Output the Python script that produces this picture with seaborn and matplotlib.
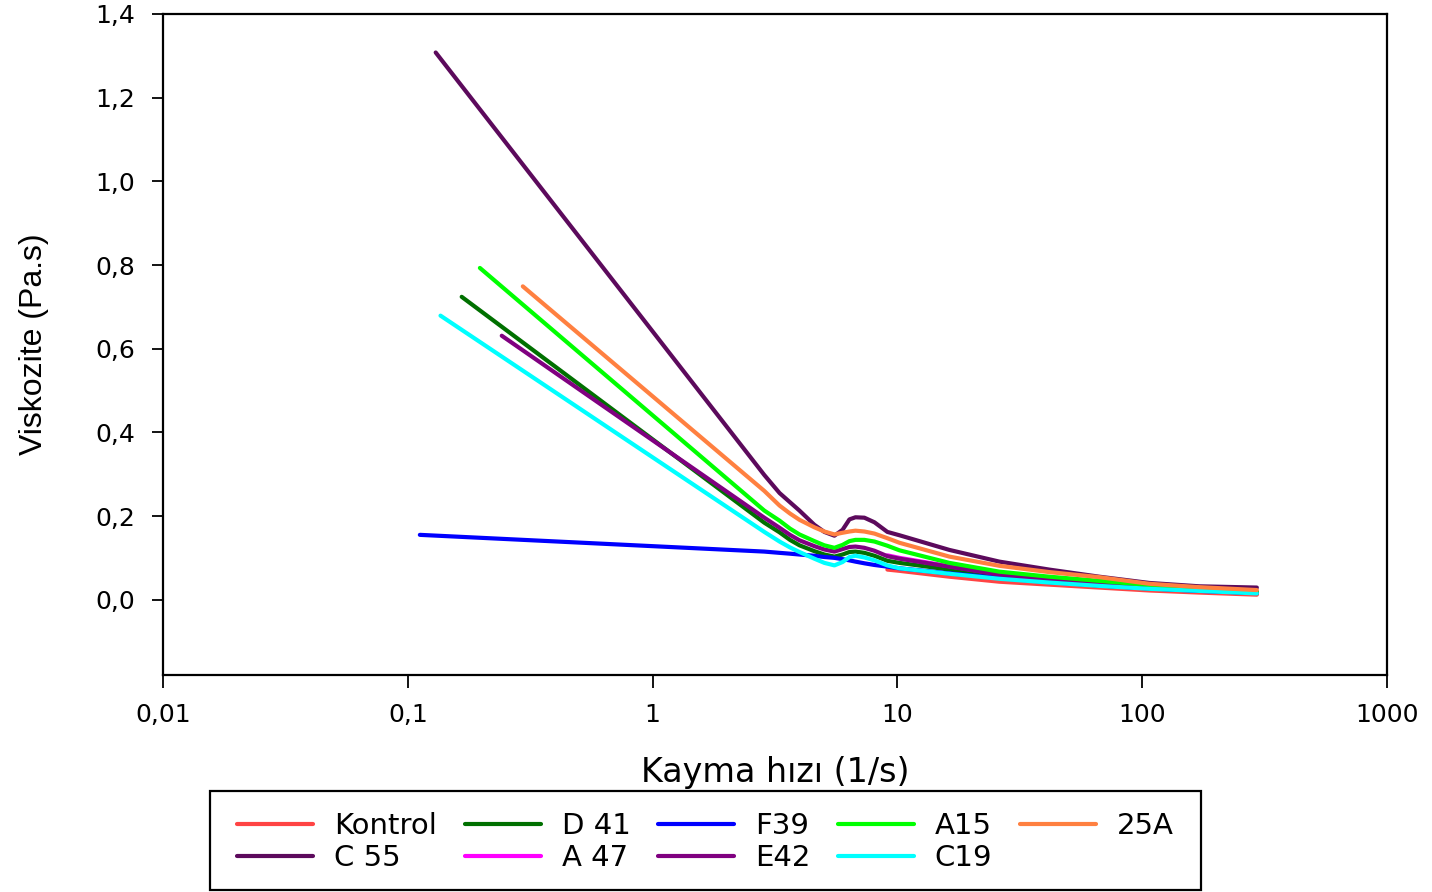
import numpy as np
import pandas as pd
import matplotlib
matplotlib.use("Agg")
import matplotlib.pyplot as plt
import seaborn as sns
from matplotlib.ticker import FixedLocator, NullLocator
from matplotlib.lines import Line2D
from matplotlib.patches import Rectangle

nan = np.nan

# Shear rates (1/s) shared by the curves beyond the linear low-shear part
hiz = [2.86, 3.30, 3.64, 3.98, 4.58, 5.03, 5.53, 5.97, 6.37, 6.74, 7.33, 8.06,
       9.10, 10.2, 16.3, 26.1, 41.7, 66.7, 107, 171, 294]

etiketler = ["Kontrol", "C 55", "D 41", "A 47", "F39", "E42", "A15", "C19", "25A"]
renkler = ["#ff4444", "#5c0a5c", "#007000", "#ff00ff", "#0000ff",
           "#800080", "#00ff00", "#00ffff", "#ff8040"]

# First measured point of each sample (shear rate, viscosity)
ilk_hiz = [nan, 0.130, 0.166, nan, 0.112, 0.242, 0.197, 0.136, 0.295]
ilk_visk = [nan, 1.308, 0.724, nan, 0.155, 0.631, 0.793, 0.679, 0.749]

# Viscosity (Pa.s) on the shared shear-rate list
kontrol = [nan, nan, nan, nan, nan, nan, nan, nan, nan, nan, nan, nan,
           0.072, 0.069, 0.055, 0.043, 0.036, 0.029, 0.022, 0.017, 0.012]
c55 = [0.298, 0.255, 0.233, 0.213, 0.179, 0.162, 0.153, 0.167, 0.192, 0.197, 0.196, 0.185,
       0.162, 0.154, 0.119, 0.091, 0.072, 0.055, 0.040, 0.032, 0.029]
d41 = [0.184, 0.161, 0.143, 0.130, 0.116, 0.108, 0.103, 0.108, 0.114, 0.115, 0.112, 0.105,
       0.093, 0.088, 0.072, 0.055, 0.043, 0.034, 0.027, 0.022, 0.016]
a47 = [nan, nan, nan, nan, nan, nan, nan, nan, nan, nan, nan, nan,
       0.106, 0.100, 0.080, 0.061, 0.049, 0.039, 0.030, 0.025, 0.018]
f39 = [0.115, 0.112, 0.110, 0.108, 0.105, 0.102, 0.100, 0.097, 0.094, 0.091, 0.087, 0.083,
       0.079, 0.075, 0.063, 0.052, 0.042, 0.034, 0.027, 0.021, 0.016]
e42 = [0.196, 0.172, 0.155, 0.142, 0.128, 0.120, 0.115, 0.121, 0.126, 0.127, 0.124, 0.117,
       0.104, 0.098, 0.079, 0.060, 0.048, 0.038, 0.029, 0.024, 0.018]
a15 = [0.213, 0.189, 0.170, 0.156, 0.140, 0.130, 0.124, 0.131, 0.140, 0.143, 0.143, 0.139,
       0.129, 0.118, 0.088, 0.067, 0.055, 0.045, 0.035, 0.027, 0.020]
c19 = [0.162, 0.139, 0.125, 0.114, 0.098, 0.088, 0.082, 0.090, 0.102, 0.105, 0.101, 0.094,
       0.082, 0.075, 0.062, 0.050, 0.041, 0.033, 0.026, 0.021, 0.015]
a25 = [0.260, 0.225, 0.206, 0.191, 0.173, 0.163, 0.156, 0.160, 0.163, 0.165, 0.163, 0.158,
       0.147, 0.136, 0.103, 0.081, 0.066, 0.054, 0.038, 0.030, 0.023]

seriler = [kontrol, c55, d41, a47, f39, e42, a15, c19, a25]

# Long-form table of all curves
parcalar = []
for ad, x0, y0, ys in zip(etiketler, ilk_hiz, ilk_visk, seriler):
    xs = [x0] + hiz
    vs = [y0] + ys
    d = pd.DataFrame({"Numune": ad, "Kayma": xs, "Viskozite": vs}).dropna()
    parcalar.append(d)
veri = pd.concat(parcalar, ignore_index=True)

sns.set_style("white")
plt.rcParams["font.family"] = ["DejaVu Sans"]
plt.rcParams["text.color"] = "black"
plt.rcParams["axes.labelcolor"] = "black"
plt.rcParams["xtick.color"] = "black"
plt.rcParams["ytick.color"] = "black"

fig = plt.figure(figsize=(14.32, 8.92), dpi=100)
ax = fig.add_axes([163 / 1432, 1 - 675 / 892, (1387 - 163) / 1432, (675 - 14) / 892])

LW = 3.0
for ad, renk in zip(etiketler, renkler):
    sns.lineplot(data=veri[veri["Numune"] == ad], x="Kayma", y="Viskozite",
                 color=renk, linewidth=LW, sort=False, estimator=None,
                 ax=ax, legend=False)

ax.set_xscale("log")
ax.set_xlim(0.01, 1000)
ax.set_ylim(-0.18, 1.4)

xt = [0.01, 0.1, 1, 10, 100, 1000]
xt_lab = ["0,01", "0,1", "1", "10", "100", "1000"]
yt = [0.0, 0.2, 0.4, 0.6, 0.8, 1.0, 1.2, 1.4]
yt_lab = ["0,0", "0,2", "0,4", "0,6", "0,8", "1,0", "1,2", "1,4"]

ax.xaxis.set_major_locator(FixedLocator(xt))
ax.xaxis.set_minor_locator(NullLocator())
ax.set_xticklabels(xt_lab)
ax.set_yticks(yt)
ax.set_yticklabels(yt_lab)

ax.tick_params(axis="x", which="major", direction="out", length=9, width=1.3,
               labelsize=18, pad=11, color="black", labelcolor="black", bottom=True)
ax.tick_params(axis="y", which="major", direction="out", length=8, width=1.3,
               labelsize=18, pad=12, color="black", labelcolor="black", left=True)
for s in ax.spines.values():
    s.set_visible(True)
    s.set_color("black")
    s.set_linewidth(1.6)

ax.set_xlabel("Kayma hızı (1/s)", fontsize=24, family="DejaVu Sans", color="black")
ax.xaxis.set_label_coords(0.5, -0.123)
ax.set_ylabel("Viskozite (Pa.s)", fontsize=23, family="Liberation Sans", color="black")
ax.yaxis.set_label_coords(-0.093, 0.5)

# Legend entries in two rows, with a plain rectangular frame around them
tutamaclar = [Line2D([0], [0], color=r, lw=LW) for r in renkler]
leg = fig.legend(tutamaclar, etiketler, ncol=5, loc="center",
                 bbox_to_anchor=(705.5 / 1432, 1 - 842 / 892),
                 fontsize=21, frameon=False, handlelength=2.6,
                 handletextpad=0.72, columnspacing=0.95, borderpad=0.0,
                 labelspacing=0.12, borderaxespad=0)
for t in leg.get_texts():
    t.set_color("black")
fig.add_artist(Rectangle((210 / 1432, 1 - 890 / 892), 991 / 1432, 99 / 892,
                         transform=fig.transFigure, fill=False,
                         edgecolor="black", linewidth=1.6))

fig.savefig("out.png", dpi=100)
